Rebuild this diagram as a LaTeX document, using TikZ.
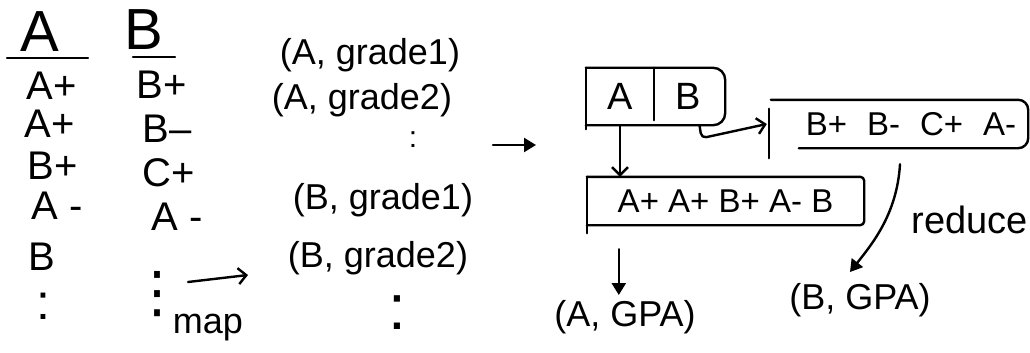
\documentclass[tikz,border=0pt]{standalone}
\usepackage{fontspec}
\setmainfont{Liberation Sans}
\newfontfamily\dejavu{DejaVu Sans}
\usetikzlibrary{arrows.meta,calc}
\newcommand{\fsz}[1]{\fontsize{#1}{#1}\selectfont}
\begin{document}
\begin{tikzpicture}[x=1pt,y=-1pt,line width=2.4pt,line cap=round,line join=round,
  txt/.style={inner sep=0pt,anchor=center},
  hdr/.style={txt,font=\fsz{58}},
  item/.style={txt,font=\fsz{40}},
  tup/.style={txt,font=\fsz{36}},
  lst/.style={txt,font=\fsz{33}},
  cell/.style={txt,font=\fsz{38},minimum height=55pt},
  openarrow/.style={-{Straight Barb[length=8pt,width=16pt]}},
  filltip/.style={-{Triangle[length=12pt,width=14pt]}}]
\useasboundingbox (0,0) rectangle (1030,353);

% column A
\node[hdr] (hA) at (40,32) {A};
\coordinate (uA1) at (7,58); \coordinate (uA2) at (88,58);
\draw (uA1) -- (uA2);
\node[item] (a1) at (52,86) {A+};
\node[item] (a2) at (50,124) {A+};
\node[item] (a3) at (53,166) {B+};
\node[item] (a4) at (57,206) {A -};
\node[item] (a5) at (42,257) {B};
\node[txt,font=\fsz{50}] (a6) at (43,306) {:};

% column B
\node[hdr] (hB) at (144,30) {B};
\coordinate (uB1) at (133,57); \coordinate (uB2) at (175,57);
\draw (uB1) -- (uB2);
\node[item] (b1) at (162,85) {B+};
\node[item] (b2) at (167,129) {B–};
\node[item] (b3) at (169,173) {C+};
\node[item] (b4) at (177,217) {A -};
\node[txt,font=\dejavu\fsz{56}] (b5) at (157,294) {⋮};

% map arrow
\coordinate (m1) at (188,282); \coordinate (m2) at (248,275);
\draw[openarrow] (m1) -- (m2);
\node[tup] (map) at (208,328) {map};

% tuples
\node[tup] (t1) at (370,55) {(A, grade1)};
\node[tup] (t2) at (362,100) {(A, grade2)};
\node[txt,font=\fsz{30}] (t3) at (413,140) {:};
\node[tup] (t4) at (383,200) {(B, grade1)};
\node[tup] (t5) at (378,258) {(B, grade2)};
\node[txt,font=\fsz{64}] (t6) at (397,313) {:};

% big arrow
\coordinate (g1) at (493,145); \coordinate (g2) at (536,145);
\draw[filltip] (g1) -- (g2);

% A|B box
\node[cell,minimum width=66pt] (cA) at (620,96.5) {A};
\node[cell,minimum width=71pt] (cB) at (688.5,96.5) {B};
\draw[rounded corners=12pt] (cA.north west) -- (cB.north east) -- (cB.south east) -- (cA.south west);
\draw (cA.north west) -- ($(cA.south west)+(0,4)$);
\draw (cA.north east) -- ($(cA.south east)+(0,-5)$);

% list B
\node[lst,minimum width=255pt,minimum height=46pt] (listB) at (899.5,124)
  {\hspace{23pt}B+\hspace{20pt}B-\hspace{20pt}C+\hspace{20pt}A-};
\draw[rounded corners=10pt] (listB.north west) -- (listB.north east) -- (listB.south east) -- ($(listB.south west)+(28,0)$);
\draw ($(listB.north west)+(-2,9)$) -- ($(listB.south west)+(-2,10)$);

% list A
\node[lst,minimum width=275pt,minimum height=46pt] (listA) at (725.5,201)
  {A+ A+ B+ A- B\hspace{31pt}};
\draw[rounded corners=4pt] (listA.north west) -- (listA.north east) -- (listA.south east) -- (listA.south west);
\draw (listA.north west) -- ($(listA.south west)+(0,8)$);

% results
\node[tup] (aGPA) at (625,317) {(A, GPA)};
\node[tup] (bGPA) at (860,300) {(B, GPA)};
\node[txt,font=\fsz{38}] (red) at (970,220) {reduce};

% connectors
\draw[openarrow] (cA.south) -- (cA.south |- listA.north);
\draw[openarrow,rounded corners=5pt] ($(cB.south)+(11,0)$) -- ++(2,13) -- ($(listB.west)+(-4,0)$);
\path (listA.south west) ++(32,24) coordinate (d1);
\draw[filltip] (d1) -- ($(d1 |- aGPA.north)+(0,-4)$);
\coordinate (r1) at ($(listB.south)+(0.5,16)$);
\draw[filltip] (r1) .. controls +(-3,50) and +(22,-28) .. ($(bGPA.north)+(-10,-10)$);
\end{tikzpicture}
\end{document}
